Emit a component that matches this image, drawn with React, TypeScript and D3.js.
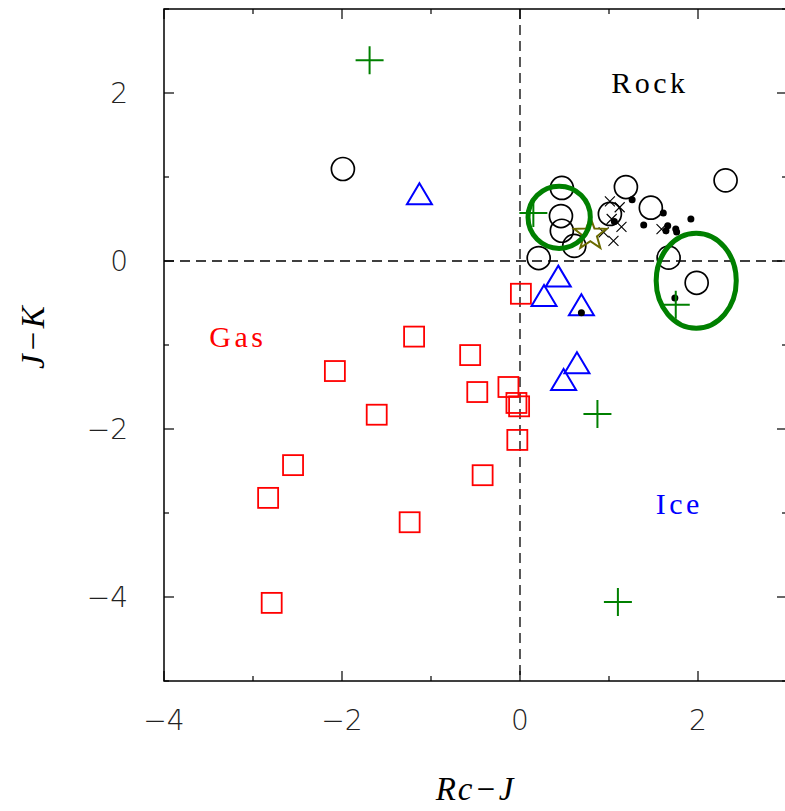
import React from "react";
import * as d3 from "d3";

// Colour–colour diagram: J−K versus Rc−J
const gasPoints: [number, number][] = [
  [0.01, -0.39], [-1.19, -0.9], [-0.56, -1.12], [-2.08, -1.31], [-0.48, -1.56],
  [-0.13, -1.5], [-0.04, -1.69], [-0.01, -1.73], [-1.61, -1.83], [-0.03, -2.13],
  [-2.55, -2.43], [-0.42, -2.55], [-2.83, -2.82], [-1.24, -3.11], [-2.79, -4.07],
];
const icePoints: [number, number][] = [
  [-1.13, 0.8], [0.43, -0.18], [0.27, -0.41], [0.69, -0.52], [0.64, -1.21], [0.49, -1.41],
];
const rockPoints: [number, number][] = [
  [-1.99, 1.095], [0.47, 0.87], [0.46, 0.535], [0.47, 0.36], [0.61, 0.18], [0.21, 0.035],
  [1.19, 0.88], [1.01, 0.56], [1.47, 0.635], [1.67, 0.04], [1.985, -0.26], [2.31, 0.96],
];
const plusPoints: [number, number][] = [
  [-1.69, 2.39], [0.15, 0.57], [1.75, -0.52], [0.87, -1.82], [1.1, -4.06],
];
const dotPoints: [number, number][] = [
  [1.26, 0.73], [1.61, 0.57], [1.39, 0.43], [1.66, 0.42], [1.64, 0.36], [1.75, 0.38],
  [1.76, 0.345], [1.92, 0.5], [1.74, -0.44], [0.69, -0.615], [1.06, 0.47],
];
const crossPoints: [number, number][] = [
  [1.01, 0.71], [1.12, 0.64], [1.03, 0.5], [1.14, 0.405], [0.94, 0.34], [1.05, 0.24], [1.59, 0.38],
];
const starPoints: [number, number][] = [[0.79, 0.32]];
// ellipses: centre x, centre y, semi-axis x, semi-axis y
const ellipses: [number, number, number, number][] = [
  [0.44, 0.52, 0.35, 0.37],
  [1.98, -0.235, 0.45, 0.565],
];
const regionLabels: { text: string; x: number; y: number; color: string }[] = [
  { text: "Rock", x: 1.46, y: 2.12, color: "#000000" },
  { text: "Gas", x: -3.17, y: -0.9, color: "#ff0000" },
  { text: "Ice", x: 1.79, y: -2.89, color: "#0000ff" },
];
const xMajorTicks = [-4, -2, 0, 2];
const xMinorTicks = [-3, -1, 1, 3];
const yMajorTicks = [-4, -2, 0, 2];
const yMinorTicks = [-5, -3, -1, 1, 3];

const W = 785;
const H = 811;
const LEFT = 164;
const RIGHT = 787;
const TOP = 9;
const BOTTOM = 681;

const fmt = (v: number) => (v < 0 ? "\u2212" + Math.abs(v) : String(v));

function starPath(cx: number, cy: number, R: number, r: number) {
  const pts: string[] = [];
  for (let i = 0; i < 10; i++) {
    const a = -Math.PI / 2 + (i * Math.PI) / 5;
    const rad = i % 2 === 0 ? R : r;
    pts.push(`${cx + rad * Math.cos(a)},${cy + rad * Math.sin(a)}`);
  }
  return "M" + pts.join("L") + "Z";
}

export default function App() {
  const x = d3.scaleLinear().domain([-4, 3]).range([LEFT, RIGHT]);
  const y = d3.scaleLinear().domain([-5, 3]).range([BOTTOM, TOP]);
  const majorLen = 10;
  const minorLen = 5;
  const tickFont = "'DejaVu Sans', 'Liberation Sans', sans-serif";
  const serif = "'Liberation Serif', 'DejaVu Serif', serif";

  const sq = 10; // half side of square marker
  const triW = 12.5;
  const triH = 21;

  return (
    <svg
      width={W}
      height={H}
      style={{ position: "absolute", left: 0, top: 0, background: "#fff" }}
    >
      <rect x={0} y={0} width={W} height={H} fill="#fff" />

      {/* zero lines */}
      <line x1={x(0)} x2={x(0)} y1={TOP} y2={BOTTOM} stroke="#000" strokeWidth={1.3} strokeDasharray="10 6" />
      <line x1={LEFT} x2={RIGHT} y1={y(0)} y2={y(0)} stroke="#000" strokeWidth={1.3} strokeDasharray="10 6" />

      {/* frame */}
      <rect x={LEFT} y={TOP} width={RIGHT - LEFT} height={BOTTOM - TOP} fill="none" stroke="#000" strokeWidth={1.5} />

      {/* ticks */}
      <g stroke="#000" strokeWidth={1.2}>
        {xMajorTicks.map((t) => (
          <g key={"xM" + t}>
            <line x1={x(t)} x2={x(t)} y1={BOTTOM} y2={BOTTOM - majorLen} />
            <line x1={x(t)} x2={x(t)} y1={TOP} y2={TOP + majorLen} />
          </g>
        ))}
        {xMinorTicks.map((t) => (
          <g key={"xm" + t}>
            <line x1={x(t)} x2={x(t)} y1={BOTTOM} y2={BOTTOM - minorLen} />
            <line x1={x(t)} x2={x(t)} y1={TOP} y2={TOP + minorLen} />
          </g>
        ))}
        {yMajorTicks.map((t) => (
          <g key={"yM" + t}>
            <line x1={LEFT} x2={LEFT + majorLen} y1={y(t)} y2={y(t)} />
            <line x1={RIGHT} x2={RIGHT - majorLen} y1={y(t)} y2={y(t)} />
          </g>
        ))}
        {yMinorTicks.map((t) => (
          <g key={"ym" + t}>
            <line x1={LEFT} x2={LEFT + minorLen} y1={y(t)} y2={y(t)} />
            <line x1={RIGHT} x2={RIGHT - minorLen} y1={y(t)} y2={y(t)} />
          </g>
        ))}
      </g>

      {/* tick labels */}
      <g fontFamily={tickFont} fontSize={28} fontWeight={200} fill="#222">
        {xMajorTicks.map((t) => (
          <text key={"xl" + t} x={x(t)} y={BOTTOM + 49} textAnchor="middle">
            {fmt(t)}
          </text>
        ))}
        {yMajorTicks.map((t) => (
          <text key={"yl" + t} x={LEFT - 36} y={y(t)} textAnchor="end" dominantBaseline="central">
            {fmt(t)}
          </text>
        ))}
      </g>

      {/* axis titles */}
      <text
        x={x(-0.5)}
        y={800}
        textAnchor="middle"
        fontFamily={serif}
        fontStyle="italic"
        fontSize={33}
        letterSpacing={2}
        fill="#000"
      >
        Rc{"\u2212"}J
      </text>
      <text
        transform={`translate(44, ${y(-0.9)}) rotate(-90)`}
        textAnchor="middle"
        fontFamily={serif}
        fontStyle="italic"
        fontSize={33}
        letterSpacing={2}
        fill="#000"
      >
        J{"\u2212"}K
      </text>

      {/* region labels */}
      {regionLabels.map((l) => (
        <text
          key={l.text}
          x={x(l.x)}
          y={y(l.y)}
          textAnchor="middle"
          dominantBaseline="central"
          fontFamily={serif}
          fontSize={30}
          letterSpacing={3.5}
          fill={l.color}
        >
          {l.text}
        </text>
      ))}

      {/* gas: red squares */}
      <g fill="none" stroke="#ff0000" strokeWidth={1.8}>
        {gasPoints.map(([a, b], i) => (
          <rect key={i} x={x(a) - sq} y={y(b) - sq} width={2 * sq} height={2 * sq} />
        ))}
      </g>

      {/* rock: black circles */}
      <g fill="none" stroke="#000" strokeWidth={1.7}>
        {rockPoints.map(([a, b], i) => (
          <circle key={i} cx={x(a)} cy={y(b)} r={11.5} />
        ))}
      </g>

      {/* crosses */}
      <g stroke="#000" strokeWidth={1.1}>
        {crossPoints.map(([a, b], i) => (
          <path key={i} d={`M${x(a) - 5},${y(b) - 5}L${x(a) + 5},${y(b) + 5}M${x(a) - 5},${y(b) + 5}L${x(a) + 5},${y(b) - 5}`} />
        ))}
      </g>

      {/* star */}
      {starPoints.map(([a, b], i) => (
        <path key={i} d={starPath(x(a), y(b), 17, 7)} fill="none" stroke="#6b6b00" strokeWidth={2} />
      ))}

      {/* ice: blue triangles */}
      <g fill="none" stroke="#0000ff" strokeWidth={2}>
        {icePoints.map(([a, b], i) => (
          <path
            key={i}
            d={`M${x(a)},${y(b) - triH / 2}L${x(a) + triW},${y(b) + triH / 2}L${x(a) - triW},${y(b) + triH / 2}Z`}
          />
        ))}
      </g>

      {/* small filled dots */}
      <g fill="#000">
        {dotPoints.map(([a, b], i) => (
          <circle key={i} cx={x(a)} cy={y(b)} r={3.5} />
        ))}
      </g>

      {/* green plus signs */}
      <g stroke="#008000" strokeWidth={2}>
        {plusPoints.map(([a, b], i) => (
          <path key={i} d={`M${x(a) - 14},${y(b)}L${x(a) + 14},${y(b)}M${x(a)},${y(b) - 14}L${x(a)},${y(b) + 14}`} />
        ))}
      </g>

      {/* green ellipses */}
      <g fill="none" stroke="#008000" strokeWidth={5}>
        {ellipses.map(([cx, cy, rx, ry], i) => (
          <ellipse key={i} cx={x(cx)} cy={y(cy)} rx={x(cx + rx) - x(cx)} ry={y(cy) - y(cy + ry)} />
        ))}
      </g>
    </svg>
  );
}
